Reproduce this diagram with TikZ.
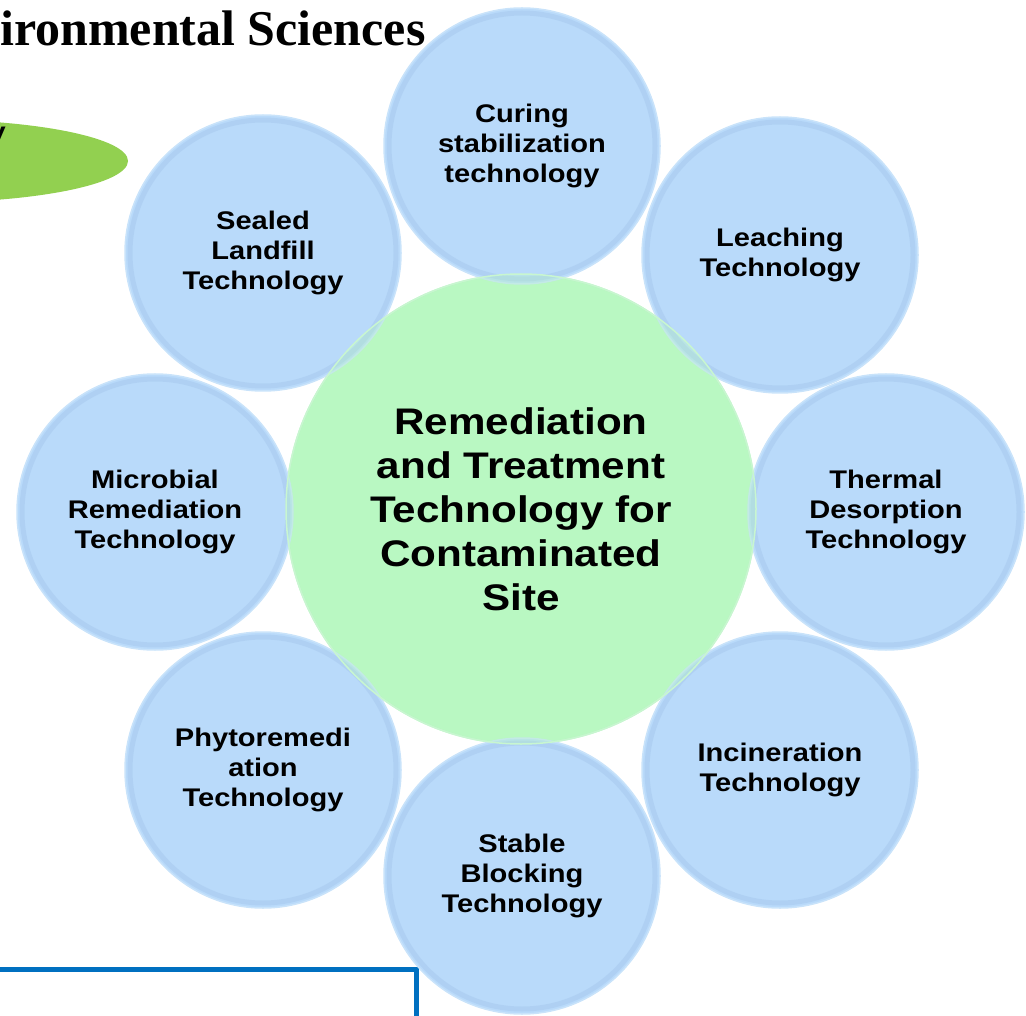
\documentclass[tikz,border=0pt]{standalone}
\usepackage{fontspec}
\setmainfont{Liberation Serif}
\newfontfamily\armfont[FakeStretch=1.14]{Liberation Sans}
\usepackage{tikz}
\usetikzlibrary{positioning}
\definecolor{rtblue}    {HTML}{B9DAFA}
\definecolor{rtrim}     {HTML}{C9E3FA}
\definecolor{rtband}    {HTML}{A3C6EC}
\definecolor{rtgreen}   {HTML}{B9F8C2}
\definecolor{rtgreenrim}{HTML}{C8F6D0}
\definecolor{rtleaf}    {HTML}{92D050}
\definecolor{rtframe}   {HTML}{0070C0}
\tikzset{
  rtball/.style={circle, fill=rtblue, draw=rtrim, line width=1.5pt, minimum size=276pt,
                 inner sep=0pt, align=center,
                 font=\armfont\bfseries\fontsize{25.5}{30}\selectfont,
                 path picture={\draw[rtband, line width=5pt, opacity=.45]
                   (path picture bounding box.center) circle (133pt);}},
  rthub/.style={circle, fill=rtgreen, draw=rtgreenrim, line width=1.5pt, minimum size=470pt,
                inner sep=0pt, align=center},
  rthubtext/.style={font=\armfont\bfseries\fontsize{37}{44}\selectfont},
}

\begin{document}
\begin{tikzpicture}[x=1pt,y=-1pt]
  \path[use as bounding box, clip] (0,0) rectangle (1026,1016);
  % cut-off bits of the page around the figure
  \node[anchor=base west, inner sep=0pt, font=\bfseries\fontsize{50}{55}\selectfont] (title)
    at (0,46) {ironmental Sciences};
  \fill[rtleaf] (-75,161) ellipse [x radius=203, y radius=41.5];
  \node[anchor=base east, inner sep=0pt, font=\armfont\bfseries\fontsize{25.5}{30}\selectfont] (tail)
    at (6,141) {y};
  \draw[rtframe, line width=5pt] (-10,969) -| (416,1030);
  % hub, then the eight technologies round it
  \node[rthub] (hub) at (521,509) {};
  \node[rtball] (curing)    at (522,146) {Curing\\stabilization\\technology};
  \node[rtball] (leaching)  at (780,255) {Leaching\\Technology};
  \node[rtball] (thermal)   at (886,512) {Thermal\\Desorption\\Technology};
  \node[rtball] (incin)     at (780,770) {Incineration\\Technology};
  \node[rtball] (stable)    at (522,876) {Stable\\Blocking\\Technology};
  \node[rtball] (phyto)     at (263,770) {Phytoremedi\\ation\\Technology};
  \node[rtball] (microbial) at (155,512) {Microbial\\Remediation\\Technology};
  \node[rtball] (sealed)    at (263,253) {Sealed\\Landfill\\Technology};
  \node[rthub, rthubtext, fill opacity=.35, text opacity=1] (hubtop) at (hub)
    {Remediation\\and Treatment\\Technology for\\Contaminated\\Site};
\end{tikzpicture}
\end{document}
